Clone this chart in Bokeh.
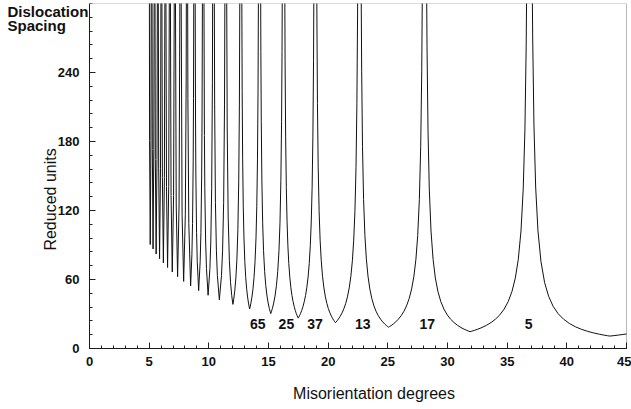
from bokeh.plotting import figure
from bokeh.models import Range1d, FixedTicker, Label, BoxAnnotation
from bokeh.embed import file_html
from bokeh.resources import INLINE
import math

# Misorientation (degrees) and dislocation spacing (reduced units)
angle = [
    5.000, 5.034, 5.090,
    5.148, 5.172, 5.238, 5.266, 5.326,
    5.389, 5.418, 5.486, 5.519, 5.585,
    5.655, 5.689, 5.761, 5.799, 5.872,
    5.950, 5.989, 6.065, 6.109, 6.190,
    6.276, 6.321, 6.401, 6.452, 6.542,
    6.638, 6.692, 6.776, 6.836, 6.937,
    7.045, 7.108, 7.198, 7.268, 7.383,
    7.506, 7.580, 7.676, 7.759, 7.890,
    8.031, 8.101, 8.120, 8.222, 8.246, 8.322, 8.473,
    8.581, 8.635, 8.689, 8.716, 8.742, 8.852, 8.885, 8.914, 8.972, 9.030, 9.147,
    9.274, 9.337, 9.400, 9.432, 9.467, 9.587, 9.630, 9.664, 9.733, 9.802, 9.939,
    10.089, 10.164, 10.239, 10.299, 10.324, 10.454, 10.487, 10.553, 10.635, 10.717, 10.881,
    11.061, 11.151, 11.241, 11.313, 11.350, 11.493, 11.540, 11.620, 11.720, 11.819, 11.919, 12.018,
    12.078, 12.171, 12.266, 12.349, 12.435, 12.506, 12.560, 12.601,
    12.759, 12.794, 12.834, 12.885, 12.944, 13.016, 13.091, 13.173, 13.249, 13.323, 13.384, 13.419,
    13.459, 13.527, 13.611, 13.696, 13.788, 13.872, 13.953, 14.019, 14.077, 14.122, 14.161,
    14.339, 14.361, 14.395, 14.446, 14.511, 14.585, 14.677, 14.772, 14.876, 14.972, 15.067, 15.144, 15.189,
    15.240, 15.329, 15.436, 15.546, 15.665, 15.773, 15.878, 15.963, 16.037, 16.095, 16.134, 16.158,
    16.362, 16.390, 16.436, 16.493, 16.554, 16.623, 16.700, 16.785, 16.877, 16.965, 17.056, 17.154,
    17.246, 17.332, 17.402, 17.457, 17.493,
    17.535, 17.599, 17.680, 17.779, 17.887, 18.001, 18.107, 18.209, 18.316, 18.414, 18.504, 18.584,
    18.655, 18.720, 18.774, 18.807,
    19.043, 19.055, 19.102, 19.166, 19.243, 19.326, 19.421, 19.527, 19.642, 19.768, 19.888, 20.012,
    20.146, 20.273, 20.390, 20.485, 20.561, 20.610,
    20.669, 20.759, 20.872, 21.012, 21.164, 21.323, 21.471, 21.615, 21.765, 21.902, 22.029, 22.141,
    22.241, 22.333, 22.408, 22.465, 22.479,
    22.761, 22.808, 22.877, 22.968, 23.080, 23.201, 23.337, 23.491, 23.657, 23.839, 24.013, 24.193,
    24.387, 24.570, 24.740, 24.877, 24.987, 25.058,
    25.146, 25.281, 25.451, 25.661, 25.888, 26.128, 26.350, 26.565, 26.789, 26.996, 27.186, 27.354,
    27.503, 27.641, 27.755, 27.840, 27.898,
    28.246, 28.284, 28.366, 28.474, 28.618, 28.793, 28.981, 29.195, 29.436, 29.697, 29.982, 30.254,
    30.536, 30.839, 31.127, 31.393, 31.608, 31.780, 31.891,
    32.036, 32.260, 32.540, 32.887, 33.262, 33.658, 34.025, 34.381, 34.751, 35.092, 35.406, 35.685,
    35.931, 36.159, 36.346, 36.487, 36.593, 36.643,
    37.097, 37.139, 37.244, 37.388, 37.579, 37.832, 38.141, 38.474, 38.851, 39.275, 39.736, 40.238,
    40.719, 41.215, 41.750, 42.258, 42.727, 43.106, 43.409, 43.605,
    43.946, 44.339, 44.699, 45.000,
]
spacing = [
    476.0, 180.8, 90.40,
    180.8, 320.0, 320.0, 173.1, 86.56,
    173.1, 320.0, 320.0, 164.3, 82.16,
    164.3, 320.0, 320.0, 156.2, 78.08,
    156.2, 320.0, 320.0, 148.8, 74.40,
    148.8, 320.0, 320.0, 140.9, 70.43,
    140.9, 320.0, 320.0, 133.0, 66.49,
    133.0, 320.0, 320.0, 124.8, 62.42,
    124.8, 320.0, 320.0, 116.7, 58.36,
    116.7, 233.4, 320.0, 320.0, 217.4, 108.7, 54.36,
    81.5, 108.7, 163.1, 217.4, 320.0, 320.0, 201.3, 151.0, 100.7, 75.5, 50.33,
    75.5, 100.7, 151.0, 201.3, 320.0, 320.0, 185.2, 138.9, 92.6, 69.5, 46.31,
    69.5, 92.6, 138.9, 231.6, 320.0, 320.0, 211.8, 127.1, 84.7, 63.5, 42.36,
    63.5, 84.7, 127.1, 211.8, 320.0, 320.0, 191.8, 115.1, 76.7, 57.5, 46.0, 38.36,
    42.19, 49.86, 61.37, 76.71, 103.6, 145.8, 211.0, 320.0,
    320.0, 223.3, 164.9, 123.7, 96.18, 75.57, 61.83, 51.53, 44.66, 39.50, 36.07, 34.35,
    36.07, 39.50, 44.66, 51.53, 61.83, 75.57, 96.18, 123.7, 164.9, 223.3, 320.0,
    320.0, 258.2, 197.5, 145.8, 109.4, 85.06, 66.84, 54.68, 45.57, 39.49, 34.94, 31.90, 30.38,
    31.90, 34.94, 39.49, 45.57, 54.68, 66.84, 85.06, 109.4, 145.8, 197.5, 258.2, 320.0,
    320.0, 250.7, 184.7, 139.9, 110.8, 89.73, 73.89, 62.02, 52.78, 46.18, 40.90, 36.42,
    32.99, 30.35, 28.50, 27.18, 26.39,
    27.18, 28.50, 30.35, 32.99, 36.42, 40.90, 46.18, 52.78, 62.02, 73.89, 89.73, 110.8,
    139.9, 184.7, 250.7, 320.0,
    320.0, 291.7, 213.2, 157.1, 118.9, 94.25, 76.30, 62.83, 52.73, 44.88, 39.27, 34.78,
    30.97, 28.05, 25.81, 24.24, 23.11, 22.44,
    23.11, 24.24, 25.81, 28.05, 30.97, 34.78, 39.27, 44.88, 52.73, 62.83, 76.30, 94.25,
    118.9, 157.1, 213.2, 291.7, 320.0,
    320.0, 240.6, 175.8, 129.5, 98.08, 77.72, 62.92, 51.81, 43.49, 37.01, 32.38, 28.68,
    25.54, 23.13, 21.28, 19.99, 19.06, 18.51,
    19.06, 19.99, 21.28, 23.13, 25.54, 28.68, 32.38, 37.01, 43.49, 51.81, 62.92, 77.72,
    98.08, 129.5, 175.8, 240.6, 320.0,
    320.0, 262.9, 189.9, 138.8, 102.2, 77.42, 61.35, 49.66, 40.90, 34.33, 29.21, 25.56,
    22.64, 20.16, 18.26, 16.80, 15.78, 15.05, 14.61,
    15.05, 15.78, 16.80, 18.26, 20.16, 22.64, 25.56, 29.21, 34.33, 40.90, 49.66, 61.35,
    77.42, 102.2, 138.8, 189.9, 262.9, 320.0,
    320.0, 270.0, 194.4, 140.4, 102.6, 75.6, 57.2, 45.4, 36.7, 30.2, 25.4, 21.6,
    18.9, 16.74, 14.90, 13.50, 12.42, 11.66, 11.12, 10.80,
    11.2, 11.7, 12.2, 12.65,
]

# Sigma (CSL) labels placed under their spikes
sigma_labels = ["65", "25", "37", "13", "17", "5"]
sigma_x = [14.1, 16.5, 18.9, 22.9, 28.3, 36.8]
sigma_y = [20.9, 20.9, 20.9, 20.9, 20.9, 20.9]

x_ticks = [0, 5, 10, 15, 20, 25, 30, 35, 40, 45]
x_minor = list(range(0, 46))
y_ticks = [0, 60, 120, 180, 240]
y_minor = list(range(0, 301, 12))

FONT = "Liberation Sans"
INK = "#111111"

# the frame fills the canvas; the data box (0..45 x 0..300) sits inside it
p = figure(width=631, height=409, output_backend="svg", toolbar_location=None,
           x_range=Range1d(-7.458, 45.419), y_range=Range1d(-53.04, 300),
           min_border_left=0, min_border_right=0, min_border_top=3, min_border_bottom=0)
p.background_fill_color = "white"
p.border_fill_color = "white"
p.outline_line_color = None
p.xgrid.visible = False
p.ygrid.visible = False

p.add_layout(BoxAnnotation(left=0, right=45, bottom=0, top=300, fill_alpha=0,
                           line_color=INK, line_width=1))

p.line(angle, spacing, line_color=INK, line_width=1)

p.xaxis.ticker = FixedTicker(ticks=x_ticks, minor_ticks=x_minor)
p.yaxis.ticker = FixedTicker(ticks=y_ticks, minor_ticks=y_minor)
p.xaxis.bounds = (0, 45)
p.yaxis.bounds = (0, 300)
p.xaxis.fixed_location = 0
p.yaxis.fixed_location = 0
for ax in (p.xaxis[0], p.yaxis[0]):
    ax.axis_line_color = "#222222"
    ax.major_tick_line_color = "#222222"
    ax.minor_tick_line_color = "#222222"
    ax.major_tick_in = 6
    ax.major_tick_out = 0
    ax.minor_tick_in = 3
    ax.minor_tick_out = 0
    ax.major_label_text_font = FONT
    ax.major_label_text_font_style = "bold"
    ax.major_label_text_font_size = "13px"
    ax.major_label_text_color = INK
p.xaxis.major_label_standoff = 8
p.yaxis.major_label_standoff = 10

for t, x, y in zip(sigma_labels, sigma_x, sigma_y):
    p.add_layout(Label(x=x, y=y, text=t, text_align="center", text_baseline="middle",
                       text_font=FONT, text_font_style="bold", text_font_size="14px",
                       text_color=INK))

p.add_layout(Label(x=23.84, y=-39.2, text="Misorientation degrees", text_align="center",
                   text_baseline="alphabetic", text_font=FONT, text_font_size="16px",
                   text_color=INK))
p.add_layout(Label(x=-3.27, y=129.6, text="Reduced units", text_align="center",
                   text_baseline="middle", angle=math.pi / 2, text_font=FONT,
                   text_font_size="16px", text_color=INK))
p.add_layout(Label(x=-6.87, y=293.2, text="Dislocation", text_align="left",
                   text_baseline="alphabetic", text_font=FONT, text_font_style="bold",
                   text_font_size="15px", text_color=INK))
p.add_layout(Label(x=-6.87, y=280.9, text="Spacing", text_align="left",
                   text_baseline="alphabetic", text_font=FONT, text_font_style="bold",
                   text_font_size="15px", text_color=INK))

open("out.html", "w").write(file_html(p, INLINE))
